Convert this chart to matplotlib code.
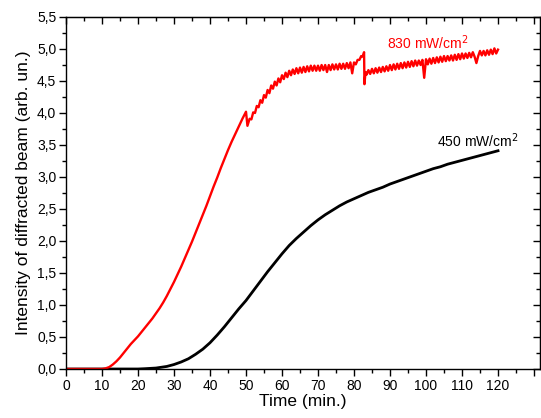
import matplotlib
matplotlib.use("Agg")
import matplotlib.pyplot as plt
from matplotlib.ticker import MultipleLocator, FuncFormatter

plt.rcParams['font.family'] = ['Liberation Sans', 'DejaVu Sans']

# Red curve: 830 mW/cm^2 (rising part)
red_rise_x = [0, 5, 10, 11, 12, 13, 14, 15, 16, 17, 18, 19, 20, 21, 22, 23, 24, 25, 26, 27, 28,
              29, 30, 31, 32, 33, 34, 35, 36, 37, 38, 39, 40, 41, 42, 43, 44, 45, 46, 47, 48,
              49, 50.0]
red_rise_y = [0, 0, 0, 0.01, 0.03, 0.07, 0.12, 0.18, 0.25, 0.32, 0.39, 0.45, 0.51, 0.58, 0.65,
              0.72, 0.79, 0.87, 0.95, 1.04, 1.14, 1.25, 1.36, 1.48, 1.60, 1.73, 1.86, 1.99, 2.13,
              2.27, 2.41, 2.55, 2.70, 2.85, 2.99, 3.14, 3.28, 3.42, 3.55, 3.67, 3.79, 3.91, 4.02]

# Red curve: noisy plateau part (x, y)
red_plateau = [
    (50.4, 3.80), (51.0, 3.91), (51.5, 3.90), (52.0, 4.01), (52.5, 4.00), (53.0, 4.11),
    (53.5, 4.09), (54.0, 4.20), (54.5, 4.16), (55.0, 4.28), (55.5, 4.24), (56.0, 4.36),
    (56.5, 4.31), (57.0, 4.43), (57.5, 4.38), (58.0, 4.49), (58.5, 4.43), (59.0, 4.54),
    (59.5, 4.48), (60.0, 4.59), (60.5, 4.53), (61.0, 4.63), (61.5, 4.56), (62.0, 4.66),
    (62.5, 4.59), (63.0, 4.68), (63.5, 4.61), (64.0, 4.70), (64.5, 4.62), (65.0, 4.71),
    (65.5, 4.63), (66.0, 4.72), (66.5, 4.64), (67.0, 4.73), (67.5, 4.65), (68.0, 4.74),
    (68.5, 4.66), (69.0, 4.74), (69.5, 4.66), (70.0, 4.74), (70.5, 4.66), (71.0, 4.75),
    (71.5, 4.67), (72.0, 4.75), (72.5, 4.64), (73.0, 4.75), (73.5, 4.67), (74.0, 4.76),
    (74.5, 4.68), (75.0, 4.76), (75.5, 4.68), (76.0, 4.77), (76.5, 4.69), (77.0, 4.77),
    (77.5, 4.69), (78.0, 4.78), (78.5, 4.70), (79.0, 4.79), (79.5, 4.62), (80.0, 4.79),
    (80.5, 4.76), (81.0, 4.83), (81.5, 4.83), (82.0, 4.89), (82.4, 4.88), (82.8, 4.95),
    (82.9, 4.45), (83.2, 4.64), (83.5, 4.60), (84.0, 4.67), (84.5, 4.61), (85.0, 4.69),
    (85.5, 4.62), (86.0, 4.70), (86.5, 4.63), (87.0, 4.71), (87.5, 4.64), (88.0, 4.72),
    (88.5, 4.65), (89.0, 4.73), (89.5, 4.66), (90.0, 4.75), (90.5, 4.67), (91.0, 4.76),
    (91.5, 4.68), (92.0, 4.77), (92.5, 4.69), (93.0, 4.78), (93.5, 4.70), (94.0, 4.79),
    (94.5, 4.71), (95.0, 4.80), (95.5, 4.72), (96.0, 4.81), (96.5, 4.73), (97.0, 4.82),
    (97.5, 4.74), (98.0, 4.82), (98.5, 4.75), (99.0, 4.83), (99.5, 4.55), (100.0, 4.84),
    (100.5, 4.76), (101.0, 4.85), (101.5, 4.77), (102.0, 4.86), (102.5, 4.78), (103.0, 4.87),
    (103.5, 4.79), (104.0, 4.88), (104.5, 4.80), (105.0, 4.89), (105.5, 4.81), (106.0, 4.89),
    (106.5, 4.82), (107.0, 4.90), (107.5, 4.82), (108.0, 4.91), (108.5, 4.83), (109.0, 4.92),
    (109.5, 4.84), (110.0, 4.93), (110.5, 4.85), (111.0, 4.93), (111.5, 4.86), (112.0, 4.94),
    (112.5, 4.87), (113.0, 4.95), (113.5, 4.88), (114.0, 4.78), (114.5, 4.89), (115.0, 4.97),
    (115.5, 4.90), (116.0, 4.97), (116.5, 4.90), (117.0, 4.98), (117.5, 4.91), (118.0, 4.99),
    (118.5, 4.92), (119.0, 5.01), (119.5, 4.93), (120.0, 4.99),
]

# Black curve: 450 mW/cm^2
black_x = [0, 10, 20, 22, 25, 28, 30, 32, 34, 36, 38, 40, 42, 44, 46, 48, 50, 52, 54, 56, 58,
           60, 62, 64, 66, 68, 70, 72, 74, 76, 78, 80, 82, 84, 86, 88, 90, 92, 94, 96, 98,
           100, 102, 104, 106, 108, 110, 112, 114, 116, 118, 120]
black_y = [0, 0, 0, 0.005, 0.015, 0.04, 0.07, 0.11, 0.16, 0.23, 0.31, 0.41, 0.53, 0.66, 0.80,
           0.94, 1.07, 1.22, 1.37, 1.52, 1.66, 1.80, 1.93, 2.04, 2.14, 2.24, 2.33, 2.41, 2.48,
           2.55, 2.61, 2.66, 2.71, 2.76, 2.80, 2.84, 2.89, 2.93, 2.97, 3.01, 3.05, 3.09, 3.13,
           3.16, 3.20, 3.23, 3.26, 3.29, 3.32, 3.35, 3.38, 3.41]

label_red = "830 mW/cm$^2$"
label_black = "450 mW/cm$^2$"
xlabel = "Time (min.)"
ylabel = "Intensity of diffracted beam (arb. un.)"

red_x = red_rise_x + [p[0] for p in red_plateau]
red_y = red_rise_y + [p[1] for p in red_plateau]

W, H = 541, 418
fig = plt.figure(figsize=(W / 100, H / 100), dpi=100)
left, right, top, bottom = 66, 540, 17, 369
ax = fig.add_axes([left / W, 1 - bottom / H, (right - left) / W, (bottom - top) / H])

ax.plot(black_x, black_y, color='black', lw=2.0)
ax.plot(red_x, red_y, color='red', lw=1.7)

ax.set_xlim(0, (right - left) / 3.6)
ax.set_ylim(0, 5.5)

ax.xaxis.set_major_locator(MultipleLocator(10))
ax.xaxis.set_minor_locator(MultipleLocator(5))
ax.yaxis.set_major_locator(MultipleLocator(0.5))
ax.yaxis.set_minor_locator(MultipleLocator(0.25))

ax.xaxis.set_major_formatter(FuncFormatter(lambda v, p: f"{v:.0f}" if v <= 120.5 else ""))
ax.yaxis.set_major_formatter(FuncFormatter(lambda v, p: f"{v:.1f}".replace('.', ',')))

ax.tick_params(which='major', direction='out', length=5, width=1, labelsize=10, pad=2,
               top=False, right=False)
ax.tick_params(which='minor', direction='out', length=3, width=1, top=False, right=False)

# top and right ticks pointing inward
secx = ax.secondary_xaxis('top')
secx.xaxis.set_major_locator(MultipleLocator(10))
secx.xaxis.set_minor_locator(MultipleLocator(5))
secx.tick_params(which='major', direction='in', length=5, width=1, labeltop=False)
secx.tick_params(which='minor', direction='in', length=3, width=1)
secy = ax.secondary_yaxis('right')
secy.yaxis.set_major_locator(MultipleLocator(0.5))
secy.yaxis.set_minor_locator(MultipleLocator(0.25))
secy.tick_params(which='major', direction='in', length=5, width=1, labelright=False)
secy.tick_params(which='minor', direction='in', length=3, width=1)

for s in ax.spines.values():
    s.set_linewidth(1)

ax.set_xlabel(xlabel, fontsize=12.5, labelpad=1)
ax.set_ylabel(ylabel, fontsize=12.5, labelpad=4)

ax.text(100.5, 5.1, label_red, color='red', fontsize=10, ha='center', va='center')
ax.text(103, 3.56, label_black, color='black', fontsize=10, ha='left', va='center')

fig.savefig("out.png", dpi=100)
